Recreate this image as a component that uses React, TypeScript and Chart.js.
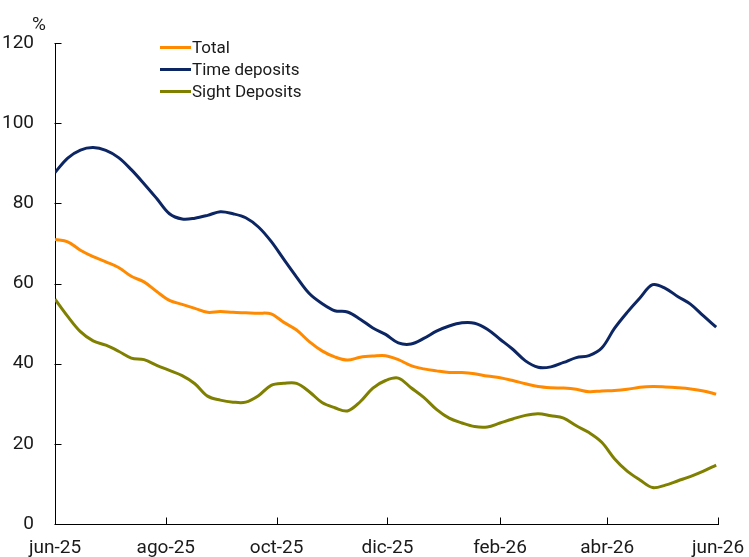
import React, { useEffect, useRef } from 'react';
import { Chart, registerables } from 'chart.js';

Chart.register(...registerables);

const startDate = '2025-06-01';

const weekDates = [
  '2025-06-01', '2025-06-08', '2025-06-15', '2025-06-22', '2025-06-29',
  '2025-07-06', '2025-07-13', '2025-07-20', '2025-07-27',
  '2025-08-03', '2025-08-10', '2025-08-17', '2025-08-24', '2025-08-31',
  '2025-09-07', '2025-09-14', '2025-09-21', '2025-09-28',
  '2025-10-05', '2025-10-12', '2025-10-19', '2025-10-26',
  '2025-11-02', '2025-11-09', '2025-11-16', '2025-11-23', '2025-11-30',
  '2025-12-07', '2025-12-14', '2025-12-21', '2025-12-28',
  '2026-01-04', '2026-01-11', '2026-01-18', '2026-01-25',
  '2026-02-01', '2026-02-08', '2026-02-15', '2026-02-22',
  '2026-03-01', '2026-03-08', '2026-03-15', '2026-03-22', '2026-03-29',
  '2026-04-05', '2026-04-12', '2026-04-19', '2026-04-26',
  '2026-05-03', '2026-05-10', '2026-05-17', '2026-05-24', '2026-05-31',
];

const totalValues = [
  71.0, 70.4, 68.3, 66.7, 65.4, 64.0, 61.8, 60.4, 58.0, 55.8,
  54.8, 53.8, 52.8, 53.0, 52.8, 52.7, 52.6, 52.4, 50.3, 48.4,
  45.5, 43.2, 41.7, 40.9, 41.6, 41.9, 42.0, 41.0, 39.5, 38.7,
  38.2, 37.8, 37.8, 37.5, 36.9, 36.5, 35.8, 35.0, 34.3, 34.0,
  33.9, 33.6, 33.0, 33.2, 33.3, 33.6, 34.1, 34.3, 34.2, 34.0,
  33.7, 33.2, 32.4,
];

const timeValues = [
  87.7, 91.3, 93.3, 93.9, 93.2, 91.4, 88.4, 84.9, 81.2, 77.4,
  76.1, 76.3, 77.0, 77.9, 77.4, 76.4, 74.1, 70.5, 66.0, 61.6,
  57.5, 55.0, 53.2, 52.9, 51.1, 48.9, 47.3, 45.2, 44.9, 46.3,
  48.1, 49.4, 50.2, 50.1, 48.6, 46.1, 43.6, 40.7, 39.1, 39.2,
  40.3, 41.5, 42.0, 43.9, 48.8, 52.8, 56.4, 59.7, 58.8, 56.7,
  54.8, 51.9, 49.1,
];

const sightValues = [
  56.1, 51.8, 48.0, 45.7, 44.6, 43.1, 41.4, 41.0, 39.6, 38.3,
  37.0, 35.0, 31.9, 30.9, 30.4, 30.4, 32.0, 34.6, 35.1, 35.1,
  33.0, 30.3, 29.0, 28.2, 30.5, 33.9, 35.8, 36.4, 34.0, 31.6,
  28.6, 26.4, 25.2, 24.3, 24.2, 25.2, 26.2, 27.1, 27.5, 27.0,
  26.4, 24.5, 22.8, 20.4, 16.3, 13.2, 11.0, 9.1, 9.7, 10.8,
  11.9, 13.2, 14.7,
];

const tickDates = ['2025-06-01', '2025-08-01', '2025-10-01', '2025-12-01', '2026-02-01', '2026-04-01', '2026-06-01'];
const tickLabels = ['jun-25', 'ago-25', 'oct-25', 'dic-25', 'feb-26', 'abr-26', 'jun-26'];

const yTicks = [0, 20, 40, 60, 80, 100, 120];

const seriesNames = ['Total', 'Time deposits', 'Sight Deposits'];
const seriesColors = ['#FF8A00', '#0C2563', '#7F8000'];

const dayOf = (s: string) => Math.round((Date.parse(s) - Date.parse(startDate)) / 86400000);

const FONT = 'Roboto';

const innerTicks = {
  id: 'innerTicks',
  afterDraw(chart: any) {
    const { ctx, scales } = chart;
    const xs = scales.x;
    const ys = scales.y;
    ctx.save();
    ctx.strokeStyle = '#000';
    ctx.lineWidth = 1;
    ctx.beginPath();
    const bottom = Math.round(ys.getPixelForValue(0)) + 0.5;
    const left = Math.round(xs.getPixelForValue(0)) - 0.5;
    tickDates.forEach((d) => {
      const px = Math.round(xs.getPixelForValue(dayOf(d))) + 0.5;
      ctx.moveTo(px, bottom);
      ctx.lineTo(px, bottom - 7);
    });
    yTicks.forEach((v) => {
      const py = Math.round(ys.getPixelForValue(v)) + 0.5;
      ctx.moveTo(left, py);
      ctx.lineTo(left + 7, py);
    });
    ctx.stroke();
    ctx.restore();
  },
};

export default function App() {
  const canvasRef = useRef<HTMLCanvasElement | null>(null);

  useEffect(() => {
    document.body.style.margin = '0';
    const canvas = canvasRef.current;
    if (!canvas) return;
    const seriesValues = [totalValues, timeValues, sightValues];
    const chart = new Chart(canvas, {
      type: 'line',
      data: {
        datasets: seriesValues.map((vals, i) => ({
          label: seriesNames[i],
          data: vals.map((v, j) => ({ x: dayOf(weekDates[j]), y: v })),
          borderColor: seriesColors[i],
          backgroundColor: seriesColors[i],
          borderWidth: 3,
          pointRadius: 0,
          tension: 0.35,
          fill: false,
        })),
      },
      options: {
        responsive: false,
        animation: false,
        devicePixelRatio: 1,
        layout: { padding: { top: 43, left: 0, right: 0, bottom: 0 } },
        plugins: {
          legend: { display: false },
          tooltip: { enabled: false },
        },
        scales: {
          x: {
            type: 'linear',
            min: 0,
            max: dayOf(tickDates[tickDates.length - 1]),
            afterBuildTicks: (scale: any) => {
              scale.ticks = tickDates.map((d) => ({ value: dayOf(d) }));
            },
            afterFit: (scale: any) => {
              scale.height = 33;
              scale.paddingLeft = 0;
              scale.paddingRight = 31;
            },
            grid: { display: true, drawOnChartArea: false, drawTicks: false },
            border: { display: true, color: '#000', width: 1 },
            ticks: {
              autoSkip: false,
              maxRotation: 0,
              padding: 13,
              color: '#1a1a1a',
              font: { family: FONT, size: 19 },
              callback: (value: any) => {
                const idx = tickDates.findIndex((d) => dayOf(d) === value);
                return idx >= 0 ? tickLabels[idx] : '';
              },
            },
          },
          y: {
            min: 0,
            max: 120,
            afterBuildTicks: (scale: any) => {
              scale.ticks = yTicks.map((v) => ({ value: v }));
            },
            afterFit: (scale: any) => {
              scale.width = 55;
            },
            grid: { display: true, drawOnChartArea: false, drawTicks: false },
            border: { display: true, color: '#000', width: 1 },
            ticks: {
              padding: 21,
              color: '#1a1a1a',
              font: { family: FONT, size: 19 },
            },
          },
        },
      },
      plugins: [innerTicks],
    });
    return () => chart.destroy();
  }, []);

  return (
    <div style={{ position: 'relative', width: 749, height: 557, fontFamily: FONT }}>
      <canvas ref={canvasRef} width={749} height={557} style={{ display: 'block', width: 749, height: 557 }} />
      <div style={{ position: 'absolute', left: 32, top: 13, fontSize: 19, color: '#1a1a1a', lineHeight: '22px' }}>%</div>
      <div style={{ position: 'absolute', left: 160, top: 36 }}>
        {seriesNames.map((name, i) => (
          <div key={name} style={{ display: 'flex', alignItems: 'center', height: 22 }}>
            <span style={{ display: 'inline-block', width: 31, height: 3, background: seriesColors[i] }} />
            <span style={{ fontSize: 17, color: '#1a1a1a', marginLeft: 1, lineHeight: '22px' }}>{name}</span>
          </div>
        ))}
      </div>
    </div>
  );
}
